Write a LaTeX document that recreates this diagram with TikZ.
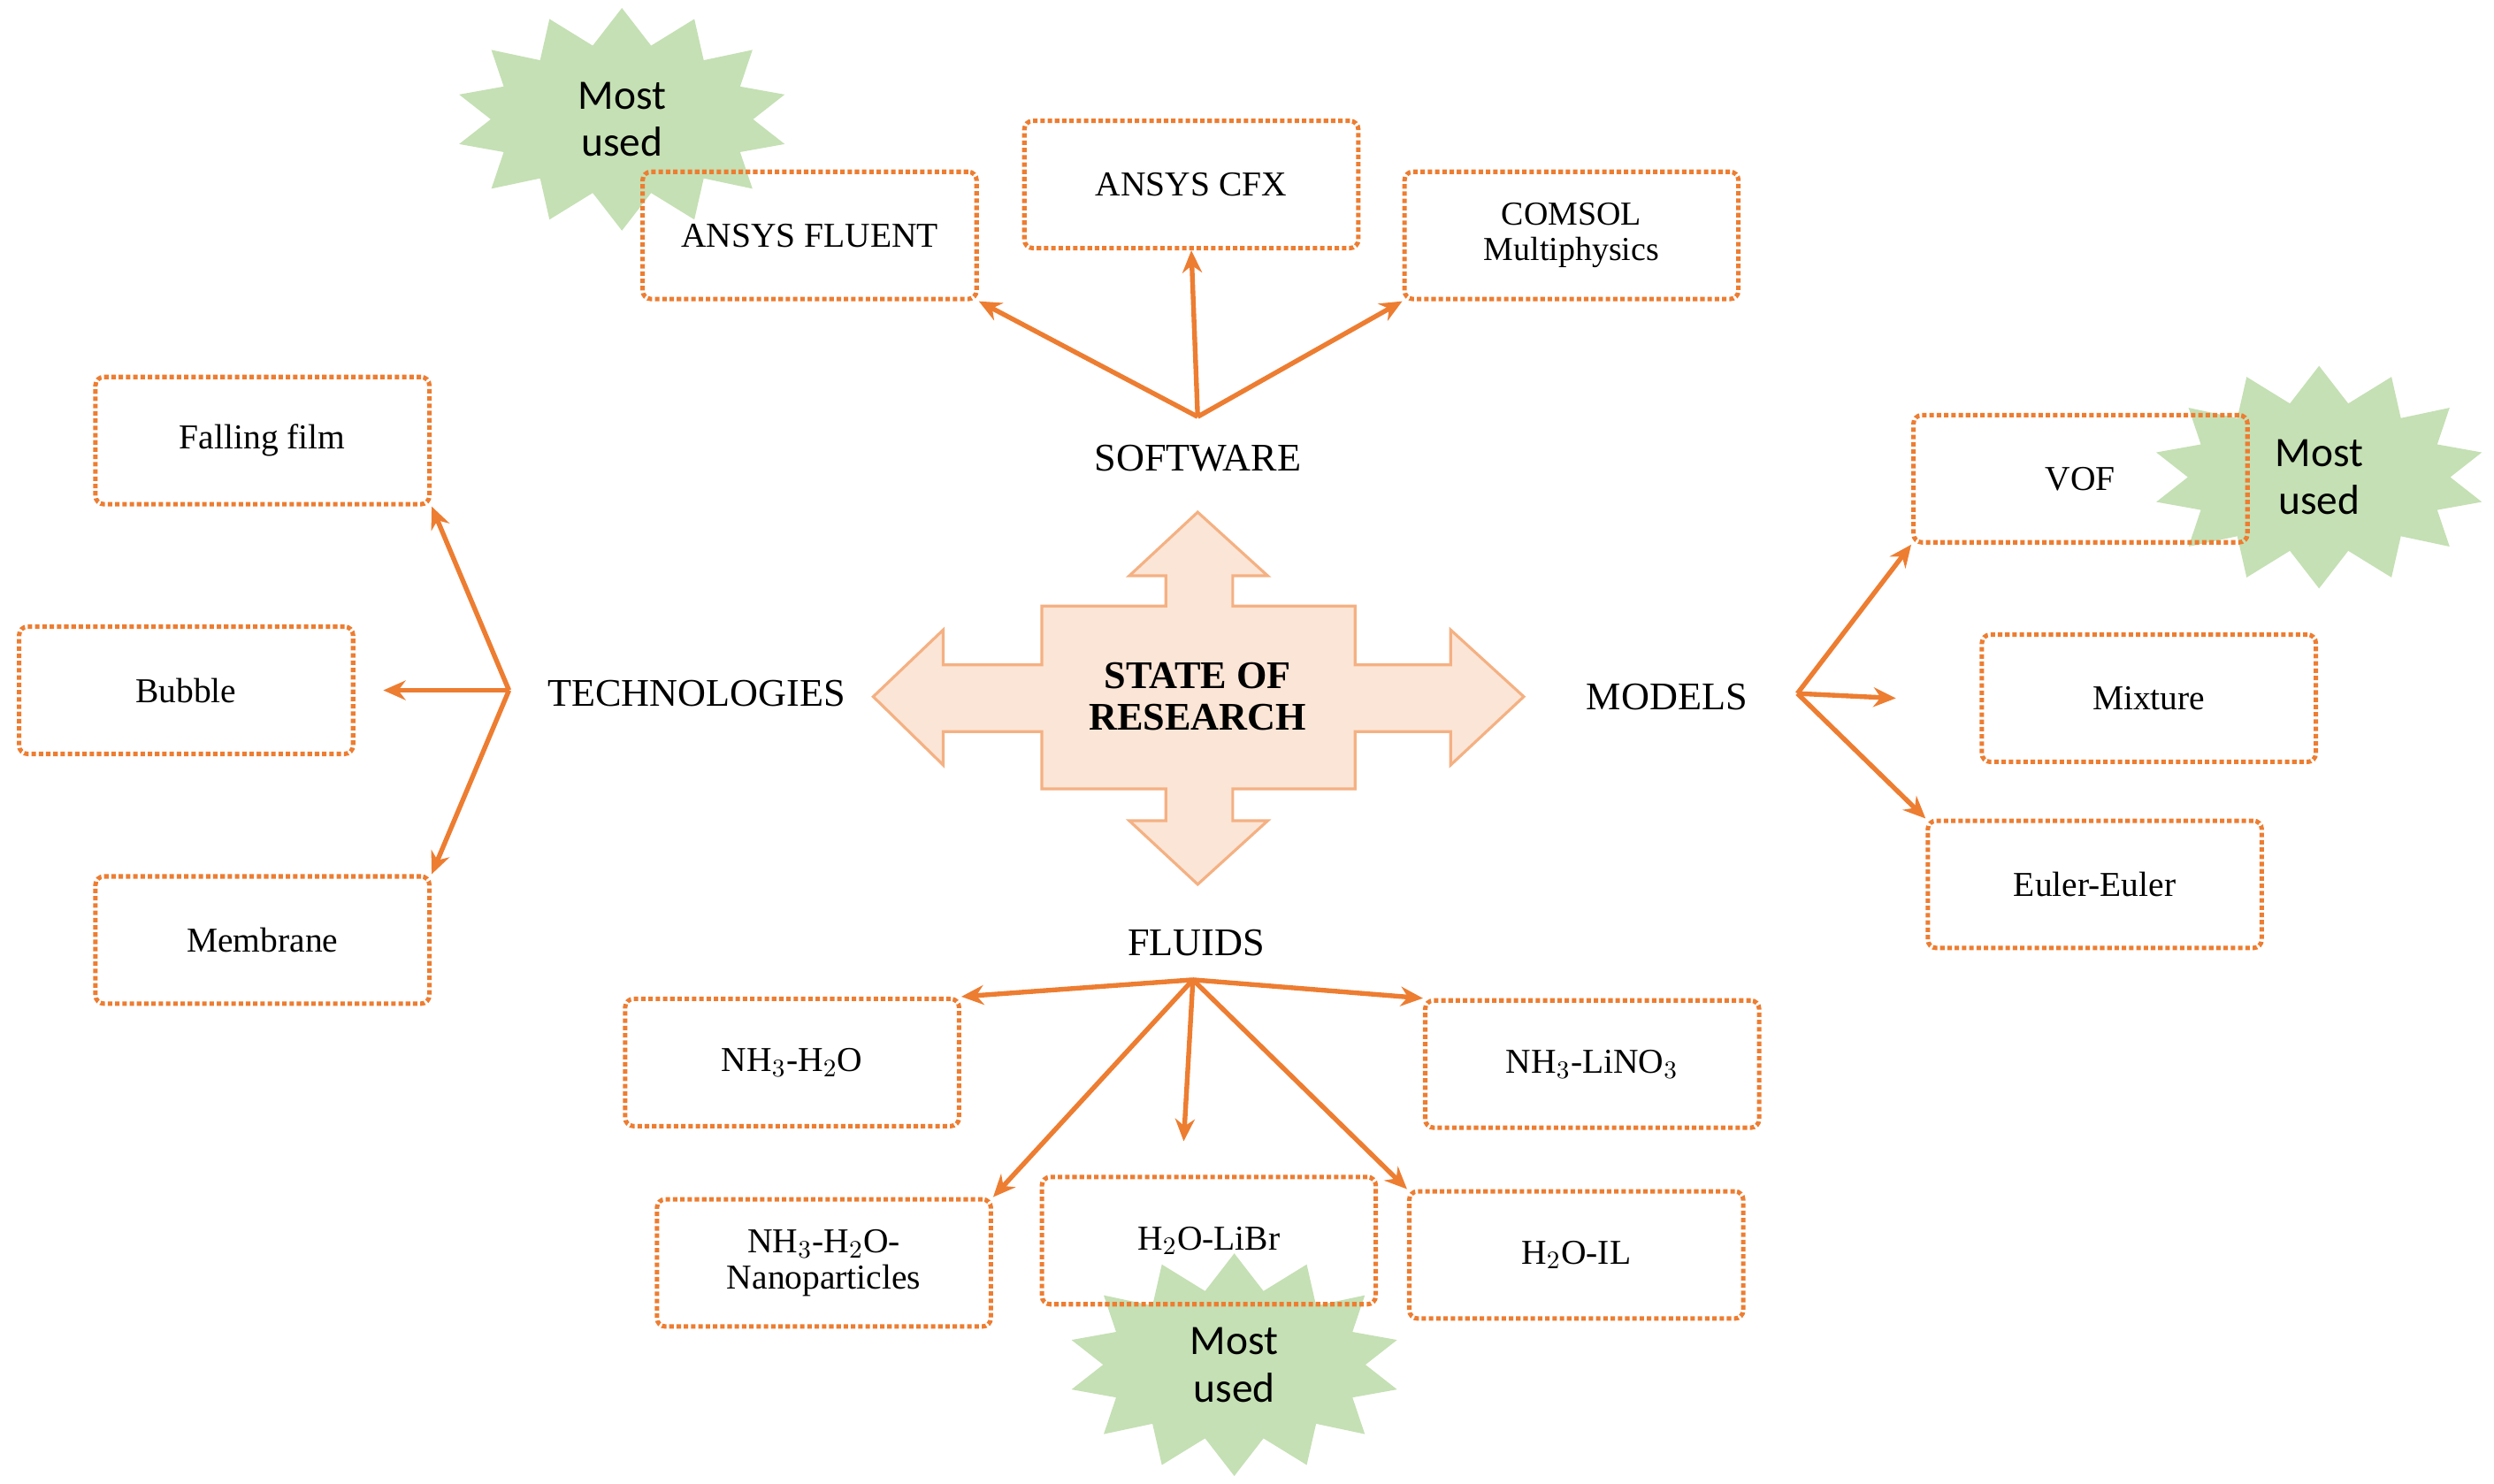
\documentclass[tikz,border=0pt]{standalone}
\usepackage{fontspec}
\setmainfont{Liberation Serif}
\newfontfamily\starfont{Carlito}
\usetikzlibrary{shapes.symbols,arrows.meta}
\definecolor{org}{HTML}{ED7D31}
\definecolor{stargreen}{HTML}{C5E0B4}
\definecolor{cfill}{HTML}{FBE5D6}
\definecolor{cdraw}{HTML}{F4B183}
\begin{document}
\begin{tikzpicture}[x=0.02cm,y=-0.02cm,
 box/.style={draw=org,densely dotted,line width=1.6pt,rounded corners=3pt,minimum width=4.2cm,minimum height=1.6cm,align=center,font=\fontsize{12.5}{13}\selectfont},
 lbl/.style={font=\fontsize{14}{16}\selectfont},
 arr/.style={draw=org,line width=1.7pt,-{Stealth[length=8pt,width=7pt]}},
 star/.style={starburst,starburst points=14,starburst point height=0.45cm,random starburst=0,fill=stargreen,draw=none,minimum width=4.2cm,minimum height=2.8cm,align=center,font=\starfont\fontsize{15}{17}\selectfont}]
\useasboundingbox (0,0) rectangle (1568,933);
\node[star] (s1) at (391,75) {Most\\used};
\node[star] (s2) at (1458,300) {Most\\used};
\node[star] (s3) at (776,858) {Most\\used};
% central arrow
\filldraw[fill=cfill,draw=cdraw,line width=1pt] (655,381)--(733,381)--(733,362)--(710,362)--(753,322)--(797,362)--(775,362)--(775,381)--(852,381)--(852,418)--(912,418)--(912,396)--(958,438)--(912,481)--(912,460)--(852,460)--(852,496)--(775,496)--(775,516)--(797,516)--(753,556)--(710,516)--(733,516)--(733,496)--(655,496)--(655,460)--(593,460)--(593,481)--(549,438)--(593,396)--(593,418)--(655,418)--cycle;
\node[align=center,font=\bfseries\fontsize{14}{15}\selectfont] (c) at (753,438) {STATE OF\\RESEARCH};
% software
\node[box] (fl) at (509,148) {ANSYS FLUENT};
\node[box] (cfx) at (749,116) {ANSYS CFX};
\node[box,font=\fontsize{12}{12.5}\selectfont] (com) at (988,148) {COMSOL\\Multiphysics};
\node[lbl] (sw) at (753,288) {SOFTWARE};
\coordinate (swp) at (753,262);
\draw[arr] (swp) -- (fl.south east);
\draw[arr] (swp) -- (cfx.south);
\draw[arr] (swp) -- (com.south west);
% technologies
\node[box] (ff) at (165,277) {Falling film};
\node[box] (bb) at (117,434) {Bubble};
\node[box] (mb) at (165,591) {Membrane};
\node[lbl] (tech) at (438,436) {TECHNOLOGIES};
\coordinate (tp) at (320,434);
\draw[arr] (tp) -- (ff.south east);
\draw[arr] (tp) -- ([xshift=10]bb.east);
\draw[arr] (tp) -- (mb.north east);
% models
\node[box] (vof) at (1308,301) {VOF};
\node[box] (mix) at (1351,439) {Mixture};
\node[box] (ee) at (1317,556) {Euler-Euler};
\node[lbl] (mod) at (1048,438) {MODELS};
\coordinate (mp) at (1130,436);
\draw[arr] (mp) -- (vof.south west);
\draw[arr] (mp) -- ([xshift=-30]mix.west);
\draw[arr] (mp) -- (ee.north west);
% fluids
\node[box] (f1) at (498,668) {NH$_3$-H$_2$O};
\node[box] (f2) at (1001,669) {NH$_3$-LiNO$_3$};
\node[box] (f3) at (518,794) {NH$_3$-H$_2$O-\\Nanoparticles};
\node[box] (f4) at (760,780) {H$_2$O-LiBr};
\node[box] (f5) at (991,789) {H$_2$O-IL};
\node[lbl] (fl2) at (752,593) {FLUIDS};
\coordinate (fp) at (750,616);
\draw[arr] (fp) -- (f1.north east);
\draw[arr] (fp) -- (f3.north east);
\draw[arr] (fp) -- ([xshift=-9,yshift=12]f4.north);
\draw[arr] (fp) -- (f5.north west);
\draw[arr] (fp) -- (f2.north west);
\end{tikzpicture}
\end{document}
